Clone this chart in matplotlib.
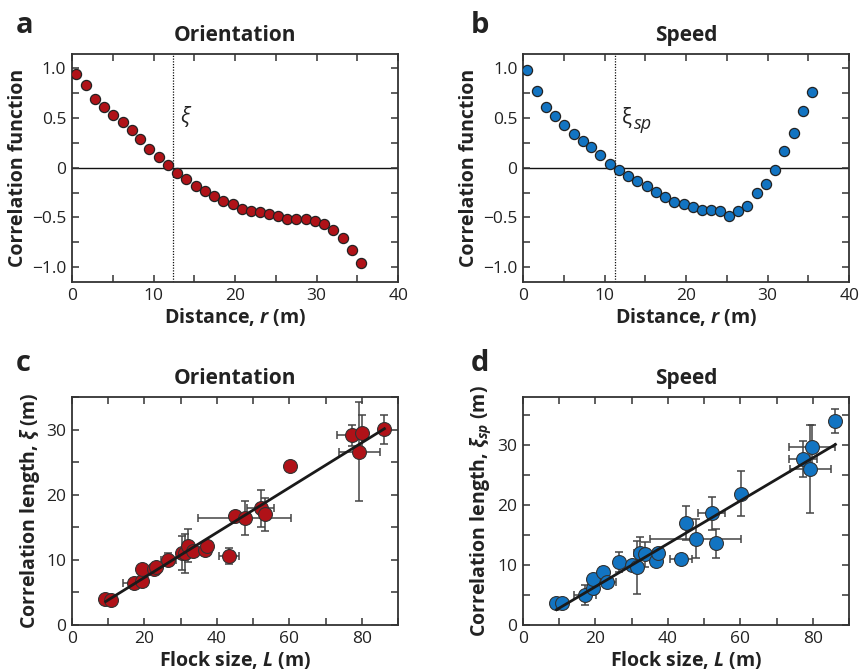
import matplotlib
matplotlib.use("Agg")
import matplotlib.pyplot as plt
import numpy as np
from matplotlib.ticker import MultipleLocator, FuncFormatter

plt.rcParams['font.family'] = ['Open Sans', 'DejaVu Sans']
plt.rcParams['mathtext.fontset'] = 'custom'
plt.rcParams['mathtext.it'] = 'Open Sans:italic:bold'
plt.rcParams['mathtext.bf'] = 'Open Sans:bold'
plt.rcParams['mathtext.rm'] = 'Open Sans:bold'

RED = '#B01218'
BLUE = '#1274C2'

# ---- Panel a/b: correlation functions ----
r = [0.5, 1.7, 2.8, 3.9, 5.0, 6.2, 7.3, 8.4, 9.5, 10.7, 11.8, 12.9, 14.0, 15.2,
     16.3, 17.4, 18.5, 19.7, 20.8, 21.9, 23.0, 24.2, 25.3, 26.4, 27.5, 28.7,
     29.8, 30.9, 32.0, 33.2, 34.3, 35.4]
c_orient = [0.946, 0.832, 0.691, 0.614, 0.534, 0.456, 0.376, 0.285, 0.191, 0.104,
            0.027, -0.054, -0.117, -0.181, -0.238, -0.282, -0.332, -0.366, -0.416,
            -0.440, -0.446, -0.463, -0.487, -0.517, -0.517, -0.520, -0.537, -0.570,
            -0.631, -0.711, -0.829, -0.956]
c_speed = [0.980, 0.775, 0.611, 0.517, 0.426, 0.342, 0.272, 0.205, 0.128, 0.040,
           -0.023, -0.081, -0.134, -0.181, -0.245, -0.295, -0.342, -0.366, -0.393,
           -0.423, -0.423, -0.440, -0.487, -0.440, -0.386, -0.258, -0.168, -0.023,
           0.164, 0.352, 0.574, 0.765]
xi_orient = 12.4
xi_speed = 11.3

# ---- Panel c: orientation correlation length vs flock size ----
L_c = [9.1, 10.8, 17.2, 19.2, 19.2, 22.5, 23.2, 26.6, 30.3, 31.2, 32.1, 33.5,
       36.8, 37.2, 43.4, 45.1, 47.6, 52.1, 53.2, 60.1, 77.2, 79.9, 79.3, 86.2]
xi_c = [4.0, 3.9, 6.4, 6.7, 8.6, 8.6, 8.9, 10.0, 11.1, 11.0, 12.2, 11.3,
        11.5, 12.1, 10.6, 16.8, 16.4, 17.9, 17.0, 24.4, 29.1, 29.4, 26.6, 30.05]
Lerr_c = [0, 0, 3.2, 0, 0, 0, 0, 2.0, 0, 0, 0, 0,
          0, 0, 2.8, 0, 12.7, 3.7, 0, 0, 4.0, 0, 5.7, 0]
xierr_c = [0, 0, 0, 0, 0, 0, 0, 1.0, 2.6, 3.0, 2.5, 0,
           0, 0, 1.2, 0, 2.6, 2.8, 2.5, 0, 1.6, 2.9, 7.6, 2.2]
fit_c = (0.345, 0.39)   # slope, intercept of drawn fit line

# ---- Panel d: speed correlation length vs flock size ----
L_d = [9.1, 10.7, 17.1, 19.2, 19.2, 22.2, 23.3, 26.6, 30.1, 31.4, 32.2, 33.7,
       36.7, 37.3, 43.5, 45.0, 47.6, 52.1, 53.2, 60.1, 77.3, 79.8, 79.3, 86.2]
xi_d = [3.7, 3.7, 5.0, 6.2, 7.6, 8.8, 7.2, 10.5, 10.0, 9.6, 12.0, 11.8,
        10.7, 12.0, 11.0, 17.0, 14.4, 18.6, 13.6, 21.9, 27.6, 29.7, 26.0, 34.0]
Lerr_d = [0, 0, 3.0, 0, 0, 0, 2.4, 0, 0, 0, 1.5, 0,
          0, 0, 3.0, 0, 12.6, 3.7, 0, 0, 3.8, 6.4, 5.6, 0]
xierr_d = [0, 0, 1.6, 0, 0, 0.9, 0, 1.7, 0, 4.4, 2.7, 2.1,
           0, 0, 0, 2.8, 3.3, 2.75, 2.4, 3.8, 3.0, 3.6, 7.4, 2.0]
fit_d = (0.358, -0.77)

fig = plt.figure(figsize=(8.63, 6.70), dpi=100)

W = 0.378
H = 0.341
ax_a = fig.add_axes([0.0834, 0.5791, W, H])
ax_b = fig.add_axes([0.6060, 0.5791, W, H])
ax_c = fig.add_axes([0.0834, 0.0672, W, 0.3403])
ax_d = fig.add_axes([0.6060, 0.0672, W, 0.3403])

SPINE = '#333333'
TICKFS = 12.5
LABFS = 14


def style(ax):
    for s in ax.spines.values():
        s.set_color(SPINE)
        s.set_linewidth(1.3)
    ax.tick_params(which='both', direction='in', top=True, right=True,
                   length=5, width=1.1, color=SPINE, labelsize=TICKFS,
                   labelcolor='#222222', pad=4)


def fmt_corr(v, pos):
    if abs(v) < 1e-9:
        return '0'
    if abs(v * 2 - round(v * 2)) > 1e-6:
        return ''
    return ('%.1f' % v).replace('-', '\u2212')


def fmt_every(step):
    def f(v, pos):
        if abs(v / step - round(v / step)) > 1e-6:
            return ''
        return '%d' % round(v)
    return f


for ax, c, col, title, xi, xilab in [
        (ax_a, c_orient, RED, 'Orientation', xi_orient, 'a'),
        (ax_b, c_speed, BLUE, 'Speed', xi_speed, 'b')]:
    style(ax)
    ax.axhline(0, color='#111111', lw=1.0, zorder=1)
    ax.axvline(xi, color='#111111', lw=0.9, ls=(0, (1, 1.2)), zorder=1)
    ax.plot(r, c, 'o', ms=7.3, mfc=col, mec='#222222', mew=0.9, zorder=3)
    ax.set_xlim(0, 40)
    ax.set_ylim(-1.15, 1.15)
    ax.xaxis.set_major_locator(MultipleLocator(5))
    ax.xaxis.set_major_formatter(FuncFormatter(fmt_every(10)))
    ax.yaxis.set_major_locator(MultipleLocator(0.25))
    ax.yaxis.set_major_formatter(FuncFormatter(fmt_corr))
    ax.set_title(title, fontsize=15, fontweight='bold', pad=9, color='#222222')
    ax.set_xlabel('Distance, $r$ (m)', fontsize=LABFS, fontweight='bold',
                  labelpad=2, color='#222222')
    ax.set_ylabel('Correlation function', fontsize=LABFS, fontweight='bold',
                  labelpad=3, color='#222222')

ax_a.text(xi_orient + 0.9, 0.52, 'ξ', fontsize=15, fontstyle='italic',
          ha='left', va='center', color='#222222')
ax_b.text(xi_speed + 0.8, 0.5, 'ξ', fontsize=15, fontstyle='normal',
          ha='left', va='center', color='#222222')
ax_b.text(xi_speed + 2.3, 0.44, 'sp', fontsize=13, fontstyle='italic',
          ha='left', va='center', color='#222222')

for ax, L, xi, Le, xe, fit, col, title, ylab, ymax in [
        (ax_c, L_c, xi_c, Lerr_c, xierr_c, fit_c, RED, 'Orientation',
         'Correlation length, $\\xi$ (m)', 35),
        (ax_d, L_d, xi_d, Lerr_d, xierr_d, fit_d, BLUE, 'Speed',
         'Correlation length, $\\xi_{sp}$ (m)', 38)]:
    style(ax)
    L = np.array(L); xi = np.array(xi)
    Le = np.array(Le, dtype=float); xe = np.array(xe, dtype=float)
    mx = Le > 0
    ax.errorbar(L[mx], xi[mx], xerr=Le[mx], fmt='none', ecolor='#444444',
                elinewidth=1.1, capsize=3, capthick=1.1, zorder=2)
    my = xe > 0
    ax.errorbar(L[my], xi[my], yerr=xe[my], fmt='none', ecolor='#444444',
                elinewidth=1.1, capsize=3, capthick=1.1, zorder=2)
    ax.plot(L, xi, 'o', ms=10, mfc=col, mec='#333333', mew=0.8, zorder=3)
    xs = np.array([min(L) + 0.2, max(L)])
    ax.plot(xs, fit[0] * xs + fit[1], color='#1a1a1a', lw=2.0, zorder=4)
    ax.set_xlim(0, 90)
    ax.set_ylim(0, ymax)
    ax.xaxis.set_major_locator(MultipleLocator(10))
    ax.xaxis.set_major_formatter(FuncFormatter(fmt_every(20)))
    ax.yaxis.set_major_locator(MultipleLocator(5))
    ax.yaxis.set_major_formatter(FuncFormatter(fmt_every(10)))
    ax.set_title(title, fontsize=15, fontweight='bold', pad=9, color='#222222')
    ax.set_xlabel('Flock size, $L$ (m)', fontsize=LABFS, fontweight='bold',
                  labelpad=2, color='#222222')
    ax.set_ylabel(ylab, fontsize=LABFS, fontweight='bold', labelpad=3,
                  color='#222222')

# panel letters
for txt, x, y in [('a', 0.018, 0.962), ('b', 0.545, 0.962),
                  ('c', 0.018, 0.458), ('d', 0.545, 0.458)]:
    fig.text(x, y, txt, fontsize=21, fontweight='bold', color='#222222',
             ha='left', va='center')

fig.savefig('out.png', dpi=100)
